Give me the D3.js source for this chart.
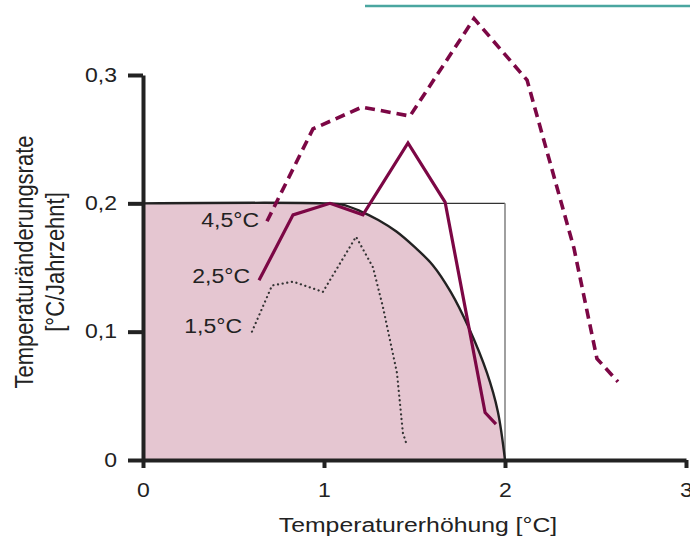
<!DOCTYPE html>
<html><head><meta charset="utf-8">
<script src="https://cdn.jsdelivr.net/npm/d3@7"></script>
<style>
html,body{margin:0;padding:0;background:#fff;}
svg{display:block;}
text{font-family:"Liberation Sans",Arial,Helvetica,sans-serif;fill:#222;}
</style></head>
<body>
<svg id="chart" width="690" height="538"></svg>
<script>
// ---- data ----
const xTicks = [0, 1, 2, 3];
const yTicks = [0, 0.1, 0.2, 0.3];
const xTitle = "Temperaturerhöhung [°C]";
const yTitle1 = "Temperaturänderungsrate";
const yTitle2 = "[°C/Jahrzehnt]";

// tolerable window boundary
const boundX = [0, 1.0, 1.1, 1.2, 1.3, 1.4, 1.5, 1.6, 1.7, 1.8, 1.9, 1.96, 2.0];
const boundY = [0.2, 0.2, 0.199, 0.194, 0.187, 0.178, 0.166, 0.152, 0.131, 0.103, 0.068, 0.038, 0];

const s15Label = "1,5°C";
const s15X = [0.602, 0.713, 0.829, 0.994, 1.177, 1.271, 1.326, 1.403, 1.436, 1.459];
const s15Y = [0.100, 0.136, 0.139, 0.131, 0.174, 0.150, 0.119, 0.068, 0.021, 0.011];

const s25Label = "2,5°C";
const s25X = [0.641, 0.829, 1.033, 1.215, 1.464, 1.669, 1.890, 1.950];
const s25Y = [0.140, 0.191, 0.200, 0.191, 0.247, 0.201, 0.037, 0.028];

const s45Label = "4,5°C";
const s45X = [0.685, 0.939, 1.210, 1.475, 1.829, 2.122, 2.381, 2.508, 2.624];
const s45Y = [0.186, 0.258, 0.275, 0.268, 0.344, 0.296, 0.165, 0.079, 0.061];

// ---- drawing ----
const svg = d3.select("#chart");
const x = d3.scaleLinear().domain([0, 3]).range([143, 686]);
const y = d3.scaleLinear().domain([0, 0.3]).range([460, 75]);
const SX = 1.18; // horizontal text stretch
const fmt = d => String(d).replace(".", ",");
const zip = (a, b) => a.map((v, i) => [v, b[i]]);

const red = "#7c0745";

// teal decorative rule at top
svg.append("line").attr("x1", 365).attr("x2", 690).attr("y1", 6).attr("y2", 6)
  .attr("stroke", "#4aa6a0").attr("stroke-width", 2.5);

// fill
const bound = zip(boundX, boundY);
const bCurve = d3.curveCatmullRom.alpha(0.5);
svg.append("path")
  .attr("d", d3.area().x(d => x(d[0])).y0(y(0)).y1(d => y(d[1])).curve(bCurve)(bound))
  .attr("fill", "#e5c6d1");

// rectangle
svg.append("line").attr("x1", x(0)).attr("x2", x(2)).attr("y1", y(0.2)).attr("y2", y(0.2))
  .attr("stroke", "#333").attr("stroke-width", 1.2);
svg.append("line").attr("x1", x(2)).attr("x2", x(2)).attr("y1", y(0.2)).attr("y2", y(0))
  .attr("stroke", "#888").attr("stroke-width", 1.6);

// boundary curve
svg.append("path")
  .attr("d", d3.line().x(d => x(d[0])).y(d => y(d[1])).curve(bCurve)(bound))
  .attr("fill", "none").attr("stroke", "#222").attr("stroke-width", 2.4);

const line = d3.line().x(d => x(d[0])).y(d => y(d[1]));
// 1.5 dotted
svg.append("path").attr("d", line(zip(s15X, s15Y)))
  .attr("fill", "none").attr("stroke", "#333").attr("stroke-width", 2.2)
  .attr("stroke-linecap", "round").attr("stroke-dasharray", "0.1,4.6");
// 2.5 solid
svg.append("path").attr("d", line(zip(s25X, s25Y)))
  .attr("fill", "none").attr("stroke", red).attr("stroke-width", 3.2)
  .attr("stroke-linejoin", "miter");
// 4.5 dashed
svg.append("path").attr("d", line(zip(s45X, s45Y)))
  .attr("fill", "none").attr("stroke", red).attr("stroke-width", 3.6)
  .attr("stroke-dasharray", "10,6");

// axes
const yAxis = svg.append("g").attr("transform", `translate(${x(0)},0)`)
  .call(d3.axisLeft(y).tickValues(yTicks).tickSize(15).tickSizeOuter(0).tickPadding(11).tickFormat(fmt));
const xAxis = svg.append("g").attr("transform", `translate(0,${y(0)})`)
  .call(d3.axisBottom(x).tickValues(xTicks).tickSize(8).tickSizeOuter(0).tickPadding(15).tickFormat(fmt));
[yAxis, xAxis].forEach(g => {
  g.select(".domain").attr("stroke", "#222").attr("stroke-width", 4);
  g.selectAll(".tick line").attr("stroke", "#222").attr("stroke-width", 4);
  g.selectAll(".tick text").attr("fill", "#222").style("font-size", "19.5px")
    .style("font-family", '"Liberation Sans",Arial,sans-serif');
});
yAxis.selectAll(".tick text").each(function() {
  const t = d3.select(this);
  const xx = +t.attr("x");
  t.attr("x", 0).attr("transform", `translate(${xx},0) scale(${SX},1)`);
});
xAxis.selectAll(".tick text").attr("transform", `scale(${SX},1)`).attr("x", 0);

// series labels
function label(txt, xr, yb, size) {
  svg.append("text").attr("transform", `translate(${xr},${yb}) scale(${SX},1)`)
    .attr("text-anchor", "end").style("font-size", size + "px").text(txt);
}
label(s45Label, 259, 227, 19.5);
label(s25Label, 250, 283, 19.5);
label(s15Label, 242, 333, 19.5);

// axis titles
svg.append("text").attr("transform", `translate(418,532) scale(${SX},1)`)
  .attr("text-anchor", "middle").style("font-size", "21px").text(xTitle);
svg.append("text").attr("transform", `translate(33,262) scale(${SX},1) rotate(-90)`)
  .attr("text-anchor", "middle").style("font-size", "22px").text(yTitle1);
svg.append("text").attr("transform", `translate(64,262) scale(${SX},1) rotate(-90)`)
  .attr("text-anchor", "middle").style("font-size", "22px").text(yTitle2);
</script>
</body></html>
